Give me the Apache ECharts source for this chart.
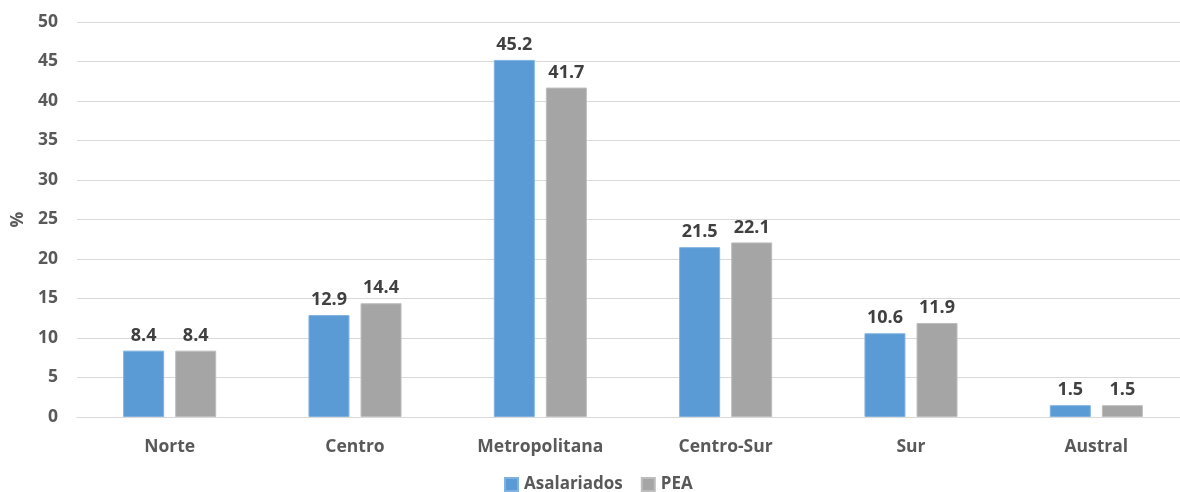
<!DOCTYPE html>
<html>
<head>
<meta charset="utf-8">
<script src="https://cdn.jsdelivr.net/npm/echarts@6/dist/echarts.min.js"></script>
<style>html,body{margin:0;padding:0;background:#fff;}#c{width:1180px;height:492px;}</style>
</head>
<body>
<div id="c"></div>
<script>
const categories = ["Norte", "Centro", "Metropolitana", "Centro-Sur", "Sur", "Austral"];
const asalariados = [8.4, 12.9, 45.2, 21.5, 10.6, 1.5];
const pea = [8.4, 14.4, 41.7, 22.1, 11.9, 1.5];
const seriesNames = ["Asalariados", "PEA"];

const FONT = "Open Sans";
const chart = echarts.init(document.getElementById('c'));
const labelStyle = {
  show: true, position: 'top', distance: 6,
  color: '#404040', fontFamily: FONT, fontWeight: 'bold', fontSize: 18,
  formatter: p => p.value.toFixed(1)
};
chart.setOption({
  animation: false,
  backgroundColor: '#fff',
  grid: { left: 77, right: -9, top: 22, bottom: 75, outerBoundsMode: 'none', containLabel: false },
  legend: {
    top: 476, left: 504, padding: 0,
    itemWidth: 13, itemHeight: 13, itemGap: 18,
    icon: 'rect',
    textStyle: { color: '#595959', fontFamily: FONT, fontWeight: 'bold', fontSize: 17, padding: [0, 0, 0, 1] },
    data: seriesNames
  },
  xAxis: {
    type: 'category', data: categories,
    axisLine: { lineStyle: { color: '#d9d9d9', width: 1 } },
    axisTick: { show: false },
    axisLabel: { color: '#595959', fontFamily: FONT, fontWeight: 'bold', fontSize: 17.5, margin: 21 }
  },
  yAxis: {
    type: 'value', min: 0, max: 50, interval: 5,
    name: '%', nameLocation: 'middle', nameGap: 50, nameRotate: 90,
    nameTextStyle: { color: '#595959', fontFamily: FONT, fontWeight: 'bold', fontSize: 17.5 },
    axisLine: { show: false }, axisTick: { show: false },
    splitLine: { lineStyle: { color: '#d9d9d9', width: 1 } },
    axisLabel: { color: '#595959', fontFamily: FONT, fontWeight: 'bold', fontSize: 17.5, margin: 19 }
  },
  series: [
    { name: seriesNames[0], type: 'bar', data: asalariados, barWidth: 41, barGap: '27%',
      itemStyle: { color: '#5B9BD5', borderColor: '#7FB2E0', borderWidth: 1 }, label: labelStyle },
    { name: seriesNames[1], type: 'bar', data: pea, barWidth: 41,
      itemStyle: { color: '#A5A5A5', borderColor: '#BDBDBD', borderWidth: 1 }, label: labelStyle }
  ]
});
</script>
</body>
</html>
